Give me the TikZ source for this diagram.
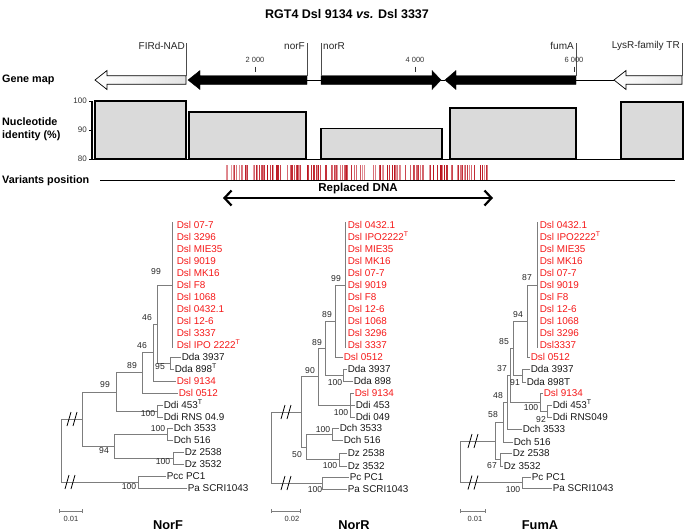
\documentclass[tikz,border=0pt]{standalone}
\usepackage{fontspec}
\setmainfont{Liberation Sans}
\usetikzlibrary{arrows.meta,calc}
\definecolor{dslred}{RGB}{245,25,25}
\definecolor{treegray}{RGB}{125,125,125}
\definecolor{boxgray}{RGB}{218,218,218}
\definecolor{vdark}{RGB}{185,15,25}
\definecolor{vlight}{RGB}{245,205,210}
\newcommand\genleft[4]{\draw[#4] (#1,80) -- (#2,70.5) -- (#2,75.7) -- (#3,75.7) -- (#3,84.3) -- (#2,84.3) -- (#2,89.5) -- cycle;}
\newcommand\genright[4]{\draw[#4] (#3,80) -- (#2,70.5) -- (#2,75.7) -- (#1,75.7) -- (#1,84.3) -- (#2,84.3) -- (#2,89.5) -- cycle;}
\newcommand\brk[2]{\draw[black,line width=0.8pt] (#1-5,#2+7) -- (#1-1,#2-7) (#1+1,#2+7) -- (#1+5,#2-7);}
\begin{document}
\begin{tikzpicture}[x=1pt,y=-1pt,
  leaf/.style={anchor=west,inner sep=0.6pt,text height=7.2pt,text depth=0pt,font=\fontsize{9.9}{11}\selectfont,text=black!90},
  redleaf/.style={leaf,text=dslred},
  bs/.style={inner sep=0pt,font=\fontsize{8.6}{10}\selectfont,text=black!85},
  branch/.style={draw=treegray,line width=0.75pt},
  hd/.style={anchor=west,inner sep=0pt,font=\bfseries\fontsize{10.8}{13}\selectfont,align=left},
  gname/.style={inner sep=0pt,font=\fontsize{10}{12}\selectfont,text=black!85},
  tick/.style={inner sep=0pt,font=\fontsize{7.5}{9}\selectfont,text=black!80},
  ptitle/.style={inner sep=0pt,font=\bfseries\fontsize{12.8}{15}\selectfont},
  ibox/.style={draw=black,line width=1.2pt,fill=boxgray}]
\useasboundingbox (0,0) rectangle (685,531);

% title
\node[inner sep=0pt,font=\bfseries\fontsize{12.5}{15}\selectfont] (title) at (347,14) {RGT4 Dsl 9134 \textit{vs.} Dsl 3337};

% row headers
\node[hd] (hgene) at (2,80) {Gene map};
\node[hd] (hid) at (2,129) {Nucleotide\\[0pt]identity (\%)};
\node[hd] (hvar) at (2,181) {Variants position};

% gene map
\draw[black,line width=0.8pt] (307,80) -- (321,80) (441,80) -- (445,80) (576,80) -- (614,80);
\genleft{95}{107}{186}{draw=black,line width=0.7pt,left color=white,right color=gray!22}
\genleft{188}{200}{307}{fill=black,draw=black}
\genright{321}{432}{441}{fill=black,draw=black}
\genleft{445}{456}{576}{fill=black,draw=black}
\genleft{614}{626}{682}{draw=black,line width=0.7pt,left color=white,right color=gray!22}
\foreach \gx in {186,307,321,576,682} \draw[black!70,line width=0.5pt] (\gx,43) -- (\gx,75.7);
\node[gname,anchor=east] (g1) at (185,46) {FIRd-NAD};
\node[gname,anchor=east] (g2) at (305,46) {norF};
\node[gname,anchor=west] (g3) at (323,46) {norR};
\node[gname,anchor=east] (g4) at (574,46) {fumA};
\node[gname,anchor=east] (g5) at (680,46) {LysR-family TR};
\foreach \tx/\tl in {255/2 000,415/4 000,574/6 000}{
  \node[tick] at (\tx,60) {\tl};
  \draw[black!80,line width=0.6pt] (\tx,66.5) -- (\tx,72);}

% identity chart
\draw[black,line width=1pt] (92,159) -- (683,159);
\draw[black,line width=1.2pt] (92,101) -- (92,159);
\foreach \yy/\yl in {101/100,130/90,159/80}{
  \draw[black,line width=0.8pt] (89,\yy) -- (92,\yy);
  \node[tick,anchor=east,font=\fontsize{8}{9}\selectfont] at (87,\yy) {\yl};}
\draw[ibox] (95,101) rectangle (186,159);
\draw[ibox] (189,112) rectangle (306,159);
\draw[ibox] (321,128.5) rectangle (442,159);
\draw[ibox] (450,108) rectangle (576,159);
\draw[ibox] (621,102) rectangle (683,159);

% variants
\pgfmathsetseed{7}
\foreach \i in {1,...,160}{
  \pgfmathsetmacro{\vx}{226+265*rnd}
  \pgfmathtruncatemacro{\vc}{25+75*rnd}
  \draw[vdark!\vc!vlight,line width=0.8pt] (\vx,165) -- (\vx,179.5);}
\draw[black,line width=0.8pt] (100,180) -- (675,180);
\node[inner sep=0pt,font=\bfseries\fontsize{11.5}{13}\selectfont] (repl) at (358,189) {Replaced DNA};
\draw[line width=2.2pt,{Straight Barb[length=7pt,width=15pt]}-{Straight Barb[length=7pt,width=15pt]}] (223,198) -- (493,198);

% ================= NorF tree
\foreach \t [count=\k from 0] in {Dsl 07-7,Dsl 3296,Dsl MIE35,Dsl 9019,Dsl MK16,Dsl F8,Dsl 1068,Dsl 0432.1,Dsl 12-6,Dsl 3337,Dsl IPO 2222\textsuperscript{T}}
  \node[redleaf] (F-r\k) at (176,225+12*\k) {\t};
\draw[branch] (172,222) -- (172,348);
\coordinate (F-cl) at (172,285);
\node[leaf] (F-dda1) at (181,357) {Dda 3937};
\node[leaf] (F-dda2) at (174,369) {Dda 898\textsuperscript{T}};
\coordinate (F-dda) at (170,363);
\node[redleaf] (F-9134) at (176,381) {Dsl 9134};
\node[redleaf] (F-0512) at (178,393) {Dsl 0512};
\node[leaf] (F-ddi1) at (163,405) {Ddi 453\textsuperscript{T}};
\node[leaf] (F-ddi2) at (163,417) {Ddi RNS 04.9};
\coordinate (F-ddi) at (157,411);
\node[leaf] (F-dch1) at (173,428) {Dch 3533};
\node[leaf] (F-dch2) at (173,440) {Dch 516};
\coordinate (F-dch) at (167,434);
\node[leaf] (F-dz1) at (184,452) {Dz 2538};
\node[leaf] (F-dz2) at (184,464) {Dz 3532};
\coordinate (F-dz) at (173,458);
\node[leaf] (F-pc1) at (166,476) {Pcc PC1};
\node[leaf] (F-pc2) at (187,488) {Pa SCRI1043};
\coordinate (F-pc) at (138,482);
\coordinate (F-n99a) at (157,324);
\coordinate (F-n46a) at (153,352.5);
\coordinate (F-n46b) at (142,372.7);
\coordinate (F-n89) at (116,392);
\coordinate (F-n94) at (114,446);
\coordinate (F-n99b) at (82,419);
\coordinate (F-root) at (61,450.5);
\foreach \a/\b in {F-dda/F-dda1.west,F-dda/F-dda2.west,F-ddi/F-ddi1.west,F-ddi/F-ddi2.west,
  F-dch/F-dch1.west,F-dch/F-dch2.west,F-dz/F-dz1.west,F-dz/F-dz2.west,F-pc/F-pc1.west,F-pc/F-pc2.west,
  F-n99a/F-cl,F-n99a/F-dda,F-n46a/F-n99a,F-n46a/F-9134.west,F-n46b/F-n46a,F-n46b/F-0512.west,
  F-n89/F-n46b,F-n89/F-ddi,F-n94/F-dch,F-n94/F-dz,F-n99b/F-n89,F-n99b/F-n94,F-root/F-n99b,F-root/F-pc}
  \draw[branch] (\a) |- (\b);
\foreach \bx/\by/\bl in {156/272/99,147/318/46,142/346/46,132/366/89,105/385/99,160/367/95,148/414/100,158/429/100,104/451/94,163/462/100,129/487/100}
  \node[bs] at (\bx,\by) {\bl};
\brk{72}{419}
\brk{70}{482}
\draw[treegray,line width=0.7pt] (59,511) -- (82,511) (59,509) -- (59,513) (82,509) -- (82,513);
\node[tick] (F-sc) at (71,519) {0.01};
\node[ptitle] (F-t) at (168,525) {NorF};

% ================= NorR tree
\foreach \t [count=\k from 0] in {Dsl 0432.1,Dsl IPO2222\textsuperscript{T},Dsl MIE35,Dsl MK16,Dsl 07-7,Dsl 9019,Dsl F8,Dsl 12-6,Dsl 1068,Dsl 3296,Dsl 3337}
  \node[redleaf] (R-r\k) at (347,225+12*\k) {\t};
\draw[branch] (345,222) -- (345,348);
\coordinate (R-cl) at (345,285);
\node[redleaf] (R-0512) at (343,357) {Dsl 0512};
\node[leaf] (R-dda1) at (347,369) {Dda 3937};
\node[leaf] (R-dda2) at (353,381) {Dda 898};
\coordinate (R-dda) at (343,375);
\node[redleaf] (R-9134) at (354,393) {Dsl 9134};
\node[leaf] (R-ddi1) at (355,405) {Ddi 453};
\node[leaf] (R-ddi2) at (355,417) {Ddi 049};
\coordinate (R-poly) at (350,405);
\node[leaf] (R-dch1) at (339,428) {Dch 3533};
\node[leaf] (R-dch2) at (343,440) {Dch 516};
\coordinate (R-dch) at (332,434);
\node[leaf] (R-dz1) at (347,453) {Dz 2538};
\node[leaf] (R-dz2) at (347,466) {Dz 3532};
\coordinate (R-dz) at (339,459.5);
\node[leaf] (R-pc1) at (349,477) {Pc PC1};
\node[leaf] (R-pc2) at (347,489) {Pa SCRI1043};
\coordinate (R-pc) at (322,483);
\coordinate (R-n99) at (335,321);
\coordinate (R-n89a) at (325,348);
\coordinate (R-n89b) at (318,376.5);
\coordinate (R-n50) at (306,447);
\coordinate (R-n90) at (301,412);
\coordinate (R-root) at (271,447.5);
\foreach \a/\b in {R-dda/R-dda1.west,R-dda/R-dda2.west,R-poly/R-9134.west,R-poly/R-ddi1.west,R-poly/R-ddi2.west,
  R-dch/R-dch1.west,R-dch/R-dch2.west,R-dz/R-dz1.west,R-dz/R-dz2.west,R-pc/R-pc1.west,R-pc/R-pc2.west,
  R-n99/R-cl,R-n99/R-0512.west,R-n89a/R-n99,R-n89a/R-dda,R-n89b/R-n89a,R-n89b/R-poly,
  R-n50/R-dch,R-n50/R-dz,R-n90/R-n89b,R-n90/R-n50,R-root/R-n90,R-root/R-pc}
  \draw[branch] (\a) |- (\b);
\foreach \bx/\by/\bl in {336/279/99,327/315/89,317/343/89,310/371/90,335/383/100,341/413/100,323/430/100,297/455/50,330/466/100,315/490/100}
  \node[bs] at (\bx,\by) {\bl};
\brk{286}{412}
\brk{286}{483}
\draw[treegray,line width=0.7pt] (271,511) -- (300,511) (271,509) -- (271,513) (300,509) -- (300,513);
\node[tick] (R-sc) at (292,519) {0.02};
\node[ptitle] (R-t) at (354,525) {NorR};

% ================= FumA tree
\foreach \t [count=\k from 0] in {Dsl 0432.1,Dsl IPO2222\textsuperscript{T},Dsl MIE35,Dsl MK16,Dsl 07-7,Dsl 9019,Dsl F8,Dsl 12-6,Dsl 1068,Dsl 3296,Dsl3337}
  \node[redleaf] (U-r\k) at (539,225+12*\k) {\t};
\draw[branch] (537,222) -- (537,348);
\coordinate (U-cl) at (537,285);
\node[redleaf] (U-0512) at (530,357) {Dsl 0512};
\node[leaf] (U-dda1) at (530,369) {Dda 3937};
\node[leaf] (U-dda2) at (526,382) {Dda 898T};
\coordinate (U-dda) at (522,375.5);
\node[redleaf] (U-9134) at (543,393) {Dsl 9134};
\node[leaf] (U-ddi1) at (552,405) {Ddi 453\textsuperscript{T}};
\node[leaf] (U-ddi2) at (552,417) {Ddi RNS049};
\coordinate (U-ddi) at (547,411);
\node[leaf] (U-dch1) at (522,429) {Dch 3533};
\node[leaf] (U-dch2) at (513,442) {Dch 516};
\node[leaf] (U-dz1) at (512,453) {Dz 2538};
\node[leaf] (U-dz2) at (503,466) {Dz 3532};
\coordinate (U-dz) at (500,459.5);
\node[leaf] (U-pc1) at (531,477) {Pc PC1};
\node[leaf] (U-pc2) at (552,488) {Pa SCRI1043};
\coordinate (U-pc) at (522,482.5);
\coordinate (U-n87) at (527,321);
\coordinate (U-n94) at (513,348);
\coordinate (U-n100) at (540,402);
\coordinate (U-n85) at (510,375);
\coordinate (U-n37) at (507,402);
\coordinate (U-n48) at (503,422);
\coordinate (U-n58) at (495,441);
\coordinate (U-root) at (460,462);
\foreach \a/\b in {U-dda/U-dda1.west,U-dda/U-dda2.west,U-ddi/U-ddi1.west,U-ddi/U-ddi2.west,
  U-dz/U-dz1.west,U-dz/U-dz2.west,U-pc/U-pc1.west,U-pc/U-pc2.west,
  U-n87/U-cl,U-n87/U-0512.west,U-n94/U-n87,U-n94/U-dda,U-n100/U-9134.west,U-n100/U-ddi,
  U-n85/U-n94,U-n85/U-n100,U-n37/U-n85,U-n37/U-dch1.west,U-n48/U-n37,U-n48/U-dch2.west,
  U-n58/U-n48,U-n58/U-dz,U-root/U-n58,U-root/U-pc}
  \draw[branch] (\a) |- (\b);
\foreach \bx/\by/\bl in {527/278/87,518/315/94,504/342/85,502/369/37,515/383/91,498/396/48,531/408/100,541/420/92,493/415/58,492/466/67,513/490/100}
  \node[bs] at (\bx,\by) {\bl};
\brk{473}{441}
\brk{473}{482.5}
\draw[treegray,line width=0.7pt] (460,511) -- (485,511) (460,509) -- (460,513) (485,509) -- (485,513);
\node[tick] (U-sc) at (475,519) {0.01};
\node[ptitle] (U-t) at (540,525) {FumA};
\end{tikzpicture}
\end{document}
